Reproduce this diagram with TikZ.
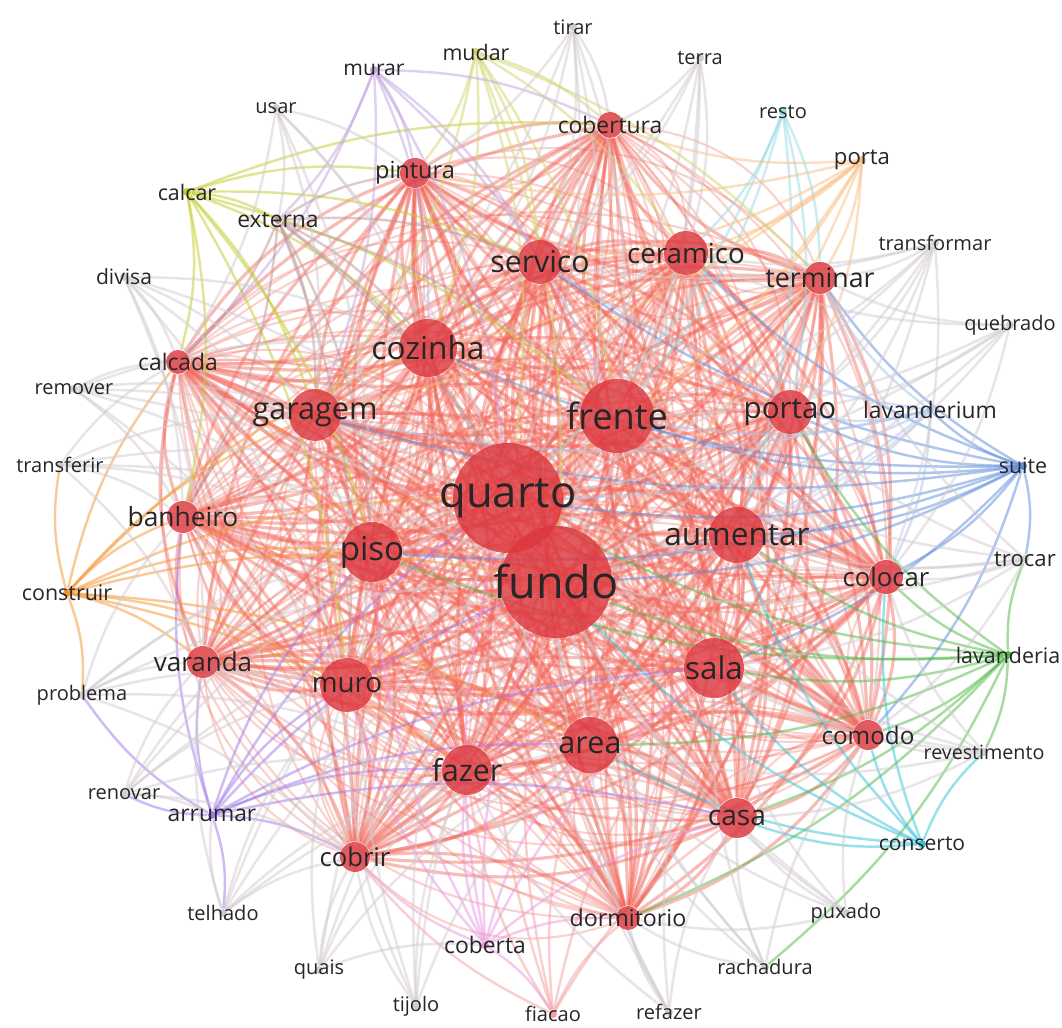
\documentclass[tikz,border=0pt]{standalone}
\usepackage{fontspec}
\setmainfont{Open Sans}
\usepackage{tikz}
\pgfdeclarelayer{edges}
\pgfsetlayers{edges,main}
\definecolor{nred}{RGB}{220,55,62}
\definecolor{ered}{RGB}{242,105,92}
\definecolor{egray}{RGB}{210,203,208}
\definecolor{eblue}{RGB}{95,140,220}
\definecolor{elblue}{RGB}{170,195,235}
\definecolor{egreen}{RGB}{80,185,70}
\definecolor{ecyan}{RGB}{50,195,215}
\definecolor{elcyan}{RGB}{150,220,232}
\definecolor{eorange}{RGB}{245,150,50}
\definecolor{elorange}{RGB}{250,190,130}
\definecolor{eyg}{RGB}{195,205,40}
\definecolor{eyel}{RGB}{210,215,110}
\definecolor{elpurp}{RGB}{195,165,225}
\definecolor{epurp}{RGB}{160,120,235}
\definecolor{epink}{RGB}{235,150,225}
\definecolor{ebrown}{RGB}{190,150,150}
\definecolor{epred}{RGB}{245,160,160}
\tikzset{
  bub/.style={circle, fill=nred, fill opacity=.82, inner sep=0pt},
  dotn/.style={circle, inner sep=0pt, minimum size=.08cm},
  redge/.style={draw=ered, opacity=.45, line width=.9pt},
  rthin/.style={draw=ered, opacity=.3, line width=.6pt},
  pedge/.style={opacity=.5, line width=.7pt}
}
\def\reds{quarto,fundo,frente,cozinha,garagem,servico,ceramico,terminar,portao,aumentar,piso,colocar,sala,muro,varanda,banheiro,calcada,area,fazer,comodo,casa,cobrir,dormitorio,pintura,cobertura}

\begin{document}
\begin{tikzpicture}
\useasboundingbox (0,0) rectangle (10.62,10.28);

\foreach \n/\x/\y/\d in {quarto/5.08/5.30/1.10, fundo/5.56/4.46/1.12, frente/6.17/6.12/.74,
  cozinha/4.28/6.80/.58, garagem/3.15/6.13/.52, servico/5.40/7.66/.44, ceramico/6.86/7.75/.44,
  terminar/8.20/7.50/.32, portao/7.90/6.16/.44, aumentar/7.37/4.93/.56, piso/3.72/4.76/.60,
  colocar/8.86/4.51/.34, sala/7.14/3.60/.60, muro/3.47/3.43/.54, varanda/2.03/3.66/.32,
  banheiro/1.83/5.11/.32, calcada/1.78/6.66/.24, area/5.90/2.83/.56, fazer/4.67/2.58/.50,
  comodo/8.68/2.93/.30, casa/7.37/2.10/.40, cobrir/3.55/1.71/.30, dormitorio/6.28/1.10/.24,
  pintura/4.15/8.55/.30, cobertura/6.10/9.03/.26}
  \node[bub, minimum size=\d cm] (\n) at (\x,\y) {};

\foreach \n/\x/\y/\c in {coberta/4.85/.83/epink, arrumar/2.12/2.13/epurp, lavanderia/10.08/3.73/egreen,
  suite/10.23/5.62/eblue, conserto/9.22/1.84/ecyan, construir/.67/4.35/eorange, calcar/1.87/8.36/eyg,
  mudar/4.76/9.76/eyel, murar/3.74/9.58/elpurp, porta/8.62/8.68/elorange, resto/7.83/9.16/elcyan,
  lavanderium/9.30/6.18/elblue, externa/2.78/8.08/ebrown, tirar/5.73/10.01/egray, terra/7.00/9.70/egray,
  usar/2.76/9.20/egray, transformar/9.35/7.85/egray, divisa/1.24/7.51/egray, quebrado/10.10/7.03/egray,
  remover/.74/6.39/egray, transferir/.60/5.63/egray, trocar/10.25/4.69/egray, problema/.82/3.33/egray,
  revestimento/9.84/2.76/egray, renovar/1.24/2.34/egray, puxado/8.46/1.15/egray, telhado/2.23/1.15/egray,
  quais/3.19/.58/egray, rachadura/7.65/.61/egray, refazer/6.69/.16/egray, tijolo/4.16/.22/egray,
  fiacao/5.53/.14/epred}
  \node[dotn, fill=\c] (\n) at (\x,\y) {};

\begin{pgfonlayer}{edges}
\fill[white] (0,0) rectangle (10.62,10.28);
\foreach \a [count=\i] in \reds {
  \foreach \b [count=\j] in \reds {
    \ifnum\j>\i \draw[redge] (\a) to[bend left=18] (\b); \fi
    \ifnum\j<\i \draw[rthin] (\a) to[bend left=32] (\b); \fi
  }
}
\foreach \p/\c/\t in {
  suite/eblue/{lavanderium,portao,frente,aumentar,colocar,terminar,quarto,fundo,sala,comodo,trocar,servico,ceramico,cozinha,garagem,piso},
  lavanderium/elblue/{quarto,fundo,frente,portao,aumentar,terminar,colocar,servico,garagem},
  lavanderia/egreen/{colocar,comodo,sala,aumentar,fundo,quarto,casa,area,trocar,revestimento,dormitorio,rachadura,portao,piso},
  conserto/ecyan/{comodo,casa,sala,colocar,aumentar,area,fundo,revestimento},
  resto/elcyan/{ceramico,portao,frente,aumentar,terminar,quarto},
  porta/elorange/{servico,cobertura,ceramico,pintura,terminar,quarto,fundo,frente,portao,cozinha,garagem},
  construir/eorange/{banheiro,varanda,calcada,garagem,piso,muro,quarto,fundo,cozinha,area,fazer,transferir,problema},
  calcar/eyg/{calcada,garagem,pintura,cobertura,muro,externa,cozinha,frente,servico,banheiro,piso},
  mudar/eyel/{pintura,cobertura,servico,cozinha,quarto,fundo,frente,ceramico,terminar,garagem},
  murar/elpurp/{pintura,cozinha,garagem,externa,servico,frente,calcada,cobertura,quarto},
  arrumar/epurp/{muro,varanda,banheiro,cobrir,fazer,piso,quarto,fundo,area,sala,casa,renovar,problema,telhado},
  coberta/epink/{cobrir,fazer,area,fundo,quarto,dormitorio,casa,muro,piso,sala,fiacao},
  fiacao/epred/{dormitorio,area,fazer,cobrir,fundo,quarto,sala,casa},
  externa/ebrown/{pintura,garagem,cozinha,calcada,piso,muro,quarto,fundo,servico,frente,banheiro},
  tirar/egray/{servico,cobertura,cozinha,pintura,frente,quarto,fundo,garagem},
  terra/egray/{cobertura,servico,ceramico,frente,cozinha,quarto,fundo},
  usar/egray/{externa,pintura,garagem,cozinha,calcada,piso,quarto},
  transformar/egray/{terminar,ceramico,portao,frente,quarto,fundo,aumentar,colocar,servico,sala},
  divisa/egray/{calcada,garagem,banheiro,muro,piso,cozinha,quarto,varanda},
  quebrado/egray/{terminar,portao,colocar,ceramico,frente,quarto,fundo,aumentar},
  remover/egray/{calcada,banheiro,garagem,piso,cozinha,quarto,fundo,muro},
  transferir/egray/{banheiro,calcada,varanda,garagem,piso,quarto,fundo},
  trocar/egray/{colocar,comodo,portao,aumentar,sala,frente,fundo,quarto,terminar},
  problema/egray/{varanda,muro,banheiro,piso,fazer,cobrir,quarto,fundo},
  revestimento/egray/{comodo,colocar,sala,casa,aumentar,fundo,quarto,area},
  renovar/egray/{arrumar,varanda,muro,cobrir,fazer,piso,quarto,fundo},
  puxado/egray/{casa,comodo,sala,dormitorio,area,fundo,quarto},
  telhado/egray/{cobrir,muro,fazer,arrumar,varanda,area,fundo,quarto},
  quais/egray/{cobrir,fazer,muro,area,coberta,fundo,quarto},
  rachadura/egray/{dormitorio,casa,area,sala,fundo,quarto,comodo},
  refazer/egray/{dormitorio,area,casa,fazer,fundo,quarto,sala},
  tijolo/egray/{cobrir,fazer,muro,area,fundo,quarto,piso}}
  {\foreach \q in \t {\draw[pedge, draw=\c] (\p) to[bend left=12] (\q);}}
\end{pgfonlayer}

\foreach \n/\f in {quarto/12.4, fundo/12.8, frente/10.3, cozinha/9, garagem/8.7, servico/8.6,
  ceramico/7.9, terminar/7.6, portao/8.4, aumentar/9, piso/9.4, colocar/7.3, sala/8.9, muro/7.9,
  varanda/7.4, banheiro/7.5, calcada/6.5, area/8.7, fazer/8.6, comodo/6.9, casa/8, cobrir/7.3,
  dormitorio/6.6, pintura/6.7, cobertura/6.5, coberta/6.5, arrumar/6.5, lavanderia/6.1, suite/6.1,
  conserto/6, construir/6.1, calcar/6.1, mudar/6.1, murar/6, porta/6.3, resto/5.7, lavanderium/6.5,
  externa/6.5, tirar/5.7, terra/5.7, usar/5.7, transformar/5.7, divisa/6, quebrado/5.7, remover/5.7,
  transferir/5.7, trocar/6.3, problema/5.7, revestimento/5.6, renovar/5.7, puxado/5.7, telhado/5.7,
  quais/5.7, rachadura/5.7, refazer/5.7, tijolo/5.7, fiacao/5.7}
  \node[font=\fontsize{\f}{\f}\selectfont, text=black!85, inner sep=0pt] (t\n) at (\n) {\n};
\end{tikzpicture}
\end{document}
